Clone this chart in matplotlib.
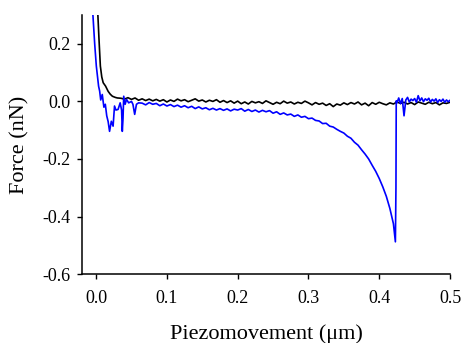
import numpy as np
import matplotlib
matplotlib.use('Agg')
import matplotlib.pyplot as plt

# =========================
# data
# =========================
# black curve: steep approach near zero, then noisy baseline
black_head_x = [0.0025, 0.004, 0.006, 0.008, 0.010, 0.0134, 0.017, 0.020, 0.023, 0.027, 0.030]
black_head_y = [0.30, 0.22, 0.123, 0.085, 0.065, 0.053, 0.035, 0.025, 0.018, 0.014, 0.012]
black_tail_y = [
    0.011, 0.008, 0.013, 0.007, 0.012, 0.004, 0.009, 0.003, 0.008, 0.002,
    0.007, 0.001, 0.006, -0.002, 0.005, 0.000, 0.008, 0.002, 0.006, -0.001,
    0.004, 0.009, 0.001, 0.005, -0.002, 0.004, 0.000, 0.006, -0.003, 0.003,
    -0.004, 0.002, -0.006, 0.001, -0.008, -0.002, -0.009, 0.000, -0.005, -0.001,
    -0.007, 0.002, -0.004, -0.010, -0.003, -0.008, 0.001, -0.006, -0.002, -0.009,
    -0.003, -0.007, 0.001, -0.005, -0.012, -0.004, -0.010, -0.006, -0.014, -0.008,
    -0.018, -0.009, -0.013, -0.005, -0.011, -0.004, -0.009, -0.002, -0.012, -0.006,
    -0.015, -0.004, -0.010, -0.003, -0.008, -0.012, -0.005, -0.009, -0.002, -0.007,
    -0.003, -0.009, -0.004, -0.011, -0.002, -0.006, -0.010, -0.003, -0.008, -0.004,
    -0.012, -0.005, -0.007, -0.003,
]

# blue curve: jump-in events, long adhesion tail, snap-off near 0.42 um
blue_head_x = [-0.0045, -0.002, 0.0003, 0.0035, 0.005, 0.0065, 0.0087, 0.011, 0.013, 0.015,
               0.017, 0.019, 0.0215, 0.024, 0.026, 0.028, 0.031, 0.034, 0.036, 0.037,
               0.038, 0.039, 0.041, 0.043, 0.046, 0.050, 0.052, 0.0545, 0.057, 0.060]
blue_head_y = [0.30, 0.20, 0.123, 0.053, 0.036, 0.005, 0.024, -0.02, -0.01, -0.05,
               -0.07, -0.104, -0.069, -0.086, -0.016, -0.03, -0.028, -0.005, -0.03, -0.104,
               -0.06, 0.018, -0.01, 0.007, -0.005, 0.0, -0.01, -0.045, -0.01, -0.005]
blue_mid_y = [
    -0.006, -0.012, -0.004, -0.010, -0.007, -0.015, -0.009, -0.016, -0.011, -0.018,
    -0.013, -0.020, -0.015, -0.022, -0.017, -0.025, -0.019, -0.026, -0.022, -0.029,
    -0.024, -0.030, -0.025, -0.031, -0.026, -0.033, -0.027, -0.030, -0.025, -0.034,
    -0.028, -0.035, -0.030, -0.037, -0.031, -0.036, -0.032, -0.041, -0.036, -0.045,
    -0.040, -0.047, -0.044, -0.052, -0.047, -0.055, -0.052, -0.060, -0.058, -0.066,
    -0.068, -0.077, -0.076, -0.086, -0.089, -0.097, -0.104, -0.110, -0.121, -0.128,
    -0.142, -0.152, -0.168, -0.183, -0.200, -0.222, -0.243, -0.268, -0.297, -0.330,
    -0.372, -0.425,
]
snap_x = [0.4228, 0.4236, 0.4240]
snap_y = [-0.488, -0.30, 0.002]
blue_tail_y = [
    -0.005, 0.012, -0.008, 0.010, -0.050, 0.005, 0.014, -0.002, 0.008, 0.003,
    0.010, -0.003, 0.020, 0.002, 0.012, -0.001, 0.009, 0.004, 0.011, -0.002,
    0.007, 0.001, 0.009, -0.004, 0.006, 0.000, 0.008, -0.003, 0.005, -0.001,
    0.004,
]

# sampling grids of the recorded traces
black_x = np.concatenate([black_head_x, np.linspace(0.035, 0.5, len(black_tail_y))])
black_y = np.concatenate([black_head_y, black_tail_y])
blue_x = np.concatenate([blue_head_x, np.linspace(0.065, 0.420, len(blue_mid_y)),
                         snap_x, np.linspace(0.425, 0.5, len(blue_tail_y))])
blue_y = np.concatenate([blue_head_y, blue_mid_y, snap_y, blue_tail_y])

# =========================
# plot
# =========================
plt.rcParams['font.family'] = ['Liberation Serif', 'DejaVu Serif']

fig = plt.figure(figsize=(4.63, 3.43), dpi=100)
ax = fig.add_axes([0.177, 0.201, 0.795, 0.755])

ax.plot(black_x, black_y, color='black', lw=1.2)
ax.plot(blue_x, blue_y, color='#0000ff', lw=1.2)

ax.set_xlim(-0.02, 0.5)
ax.set_ylim(-0.6, 0.3)
ax.set_xticks([0.0, 0.1, 0.2, 0.3, 0.4, 0.5])
ax.set_xticklabels(['0.0', '0.1', '0.2', '0.3', '0.4', '0.5'])
ax.set_yticks([-0.6, -0.4, -0.2, 0.0, 0.2])
ax.set_yticklabels(['-0.6', '-0.4', '-0.2', '0.0', '0.2'])

for side in ['top', 'right']:
    ax.spines[side].set_visible(False)
for side in ['left', 'bottom']:
    ax.spines[side].set_linewidth(1.1)

ax.tick_params(axis='both', direction='out', length=3.5, width=1.0, labelsize=13)
ax.tick_params(axis='x', pad=8)
ax.tick_params(axis='y', pad=5)

ax.set_xlabel('Piezomovement (\u03bcm)', fontsize=16)
ax.set_ylabel('Force (nN)', fontsize=16)
ax.xaxis.set_label_coords(0.5, -0.195)
ax.yaxis.set_label_coords(-0.143, 0.5)

fig.savefig('out.png', dpi=100)
plt.close(fig)
